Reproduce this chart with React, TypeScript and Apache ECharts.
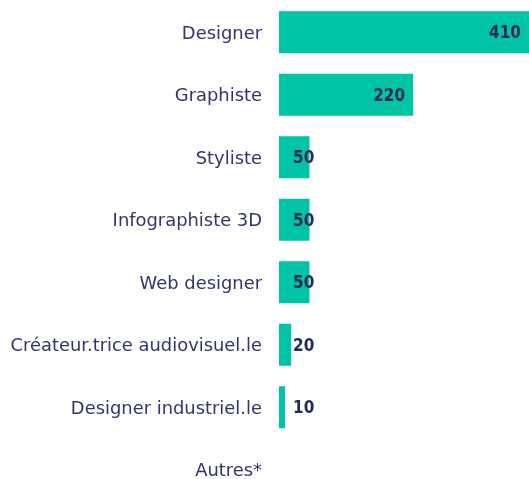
import React, { useEffect, useRef } from "react";
import * as echarts from "echarts";

const categories = [
  "Designer",
  "Graphiste",
  "Styliste",
  "Infographiste 3D",
  "Web designer",
  "Créateur.trice audiovisuel.le",
  "Designer industriel.le",
  "Autres*",
];
const values = [410, 220, 50, 50, 50, 20, 10, 0];

export default function App() {
  const ref = useRef<HTMLDivElement>(null);
  useEffect(() => {
    if (!ref.current) return;
    const chart = echarts.init(ref.current, null, { renderer: "svg" });
    const data = values.map((v) => {
      if (v === 0) return { value: v, label: { show: false } };
      if (v >= 100)
        return { value: v, label: { position: "insideRight", distance: 8 } };
      return {
        value: v,
        label: { position: [14, "50%"], align: "left", verticalAlign: "middle" },
      };
    });
    chart.setOption({
      animation: false,
      grid: { left: 279, right: 0, top: 1, height: 500, containLabel: false },
      xAxis: {
        type: "value",
        min: 0,
        max: 410,
        show: false,
      },
      yAxis: {
        type: "category",
        data: categories,
        inverse: true,
        axisLine: { show: false },
        axisTick: { show: false },
        splitLine: { show: false },
        axisLabel: {
          margin: 17,
          fontFamily: "DejaVu Sans",
          fontSize: 17.9,
          color: "#33356a",
        },
      },
      series: [
        {
          type: "bar",
          data,
          barWidth: 42,
          itemStyle: { color: "#00c4a6" },
          label: {
            show: true,
            fontFamily: "DejaVu Sans Condensed",
            fontWeight: "bold",
            fontSize: 17,
            color: "#26285a",
          },
        },
      ],
    });
    return () => chart.dispose();
  }, []);
  return (
    <div
      style={{
        position: "fixed",
        left: 0,
        top: 0,
        width: 529,
        height: 479,
        overflow: "hidden",
      }}
    >
      <div ref={ref} style={{ width: 529, height: 520 }} />
    </div>
  );
}
